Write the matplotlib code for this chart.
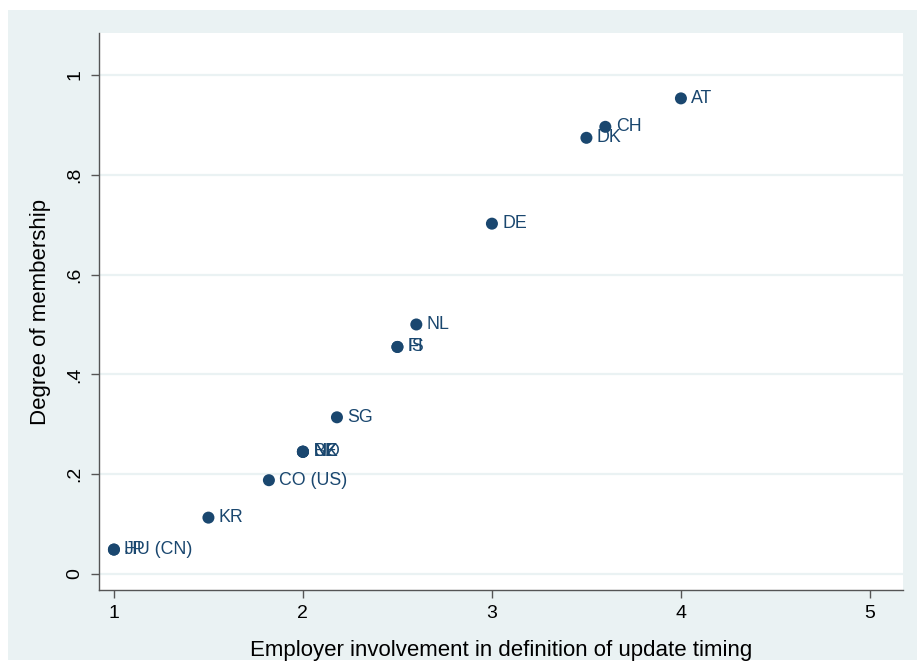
import matplotlib
matplotlib.use("Agg")
import matplotlib.pyplot as plt
from matplotlib.patches import Rectangle

labels = ["AT", "CH", "DK", "DE", "NL", "FI", "IS", "SG",
          "BE", "NO", "NZ", "UK", "CO (US)", "KR", "JP", "HU (CN)"]
x_vals = [4.0, 3.6, 3.5, 3.0, 2.6, 2.5, 2.5, 2.18,
          2.0, 2.0, 2.0, 2.0, 1.82, 1.5, 1.0, 1.0]
y_vals = [0.953, 0.896, 0.874, 0.702, 0.50, 0.455, 0.455, 0.314,
          0.245, 0.245, 0.245, 0.245, 0.188, 0.113, 0.049, 0.049]

x_ticks = [1, 2, 3, 4, 5]
y_ticks = [0, 0.2, 0.4, 0.6, 0.8, 1.0]
y_ticklabels = ["0", ".2", ".4", ".6", ".8", "1"]

plt.rcParams['font.family'] = ['Liberation Sans', 'DejaVu Sans']

W, H = 919, 663
fig = plt.figure(figsize=(W / 100, H / 100), dpi=100)
fig.patch.set_facecolor("white")
bg = Rectangle((8 / W, 3 / H), 909 / W, 650 / H, transform=fig.transFigure,
               facecolor="#EAF2F3", edgecolor="none", zorder=-10)
fig.patches.append(bg)

ax = fig.add_axes([99 / W, (H - 590) / H, (903 - 99) / W, (590 - 33) / H])
ax.set_zorder(1)
ax.set_facecolor("white")
navy = "#1a476f"

ax.scatter(x_vals, y_vals, s=75, color=navy, zorder=3, edgecolors="none")
for lab, xv, yv in zip(labels, x_vals, y_vals):
    ax.annotate(lab, (xv, yv), xytext=(7.5, 0), textcoords="offset points",
                ha="left", va="center", color=navy, fontsize=12.8, zorder=4)

ax.set_xlim(0.921, 5.175)
ax.set_ylim(-0.032, 1.084)
ax.set_xticks(x_ticks)
ax.set_xticklabels([str(t) for t in x_ticks])
ax.set_yticks(y_ticks)
ax.set_yticklabels(y_ticklabels, rotation=90, va="center")
ax.yaxis.grid(True, color="#EAF2F3", linewidth=1.6)
ax.set_axisbelow(True)

for s in ["top", "right"]:
    ax.spines[s].set_visible(False)
for s in ["left", "bottom"]:
    ax.spines[s].set_color("#555555")
    ax.spines[s].set_linewidth(1.0)
ax.tick_params(axis="both", direction="out", length=6, width=1, color="#555555",
               labelsize=14, labelcolor="black", pad=5)

ax.set_xlabel("Employer involvement in definition of update timing", fontsize=16, labelpad=13)
ax.set_ylabel("Degree of membership", fontsize=16, labelpad=11)

fig.savefig("out.png", dpi=100, facecolor=fig.get_facecolor())
